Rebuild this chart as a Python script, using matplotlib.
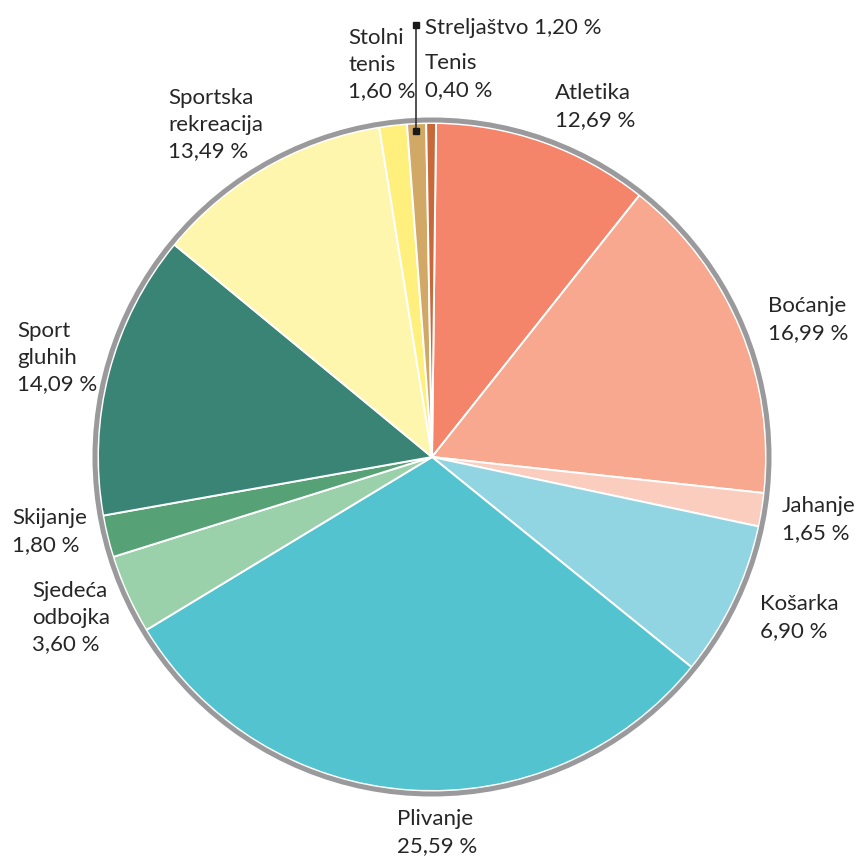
import matplotlib
matplotlib.use("Agg")
import matplotlib.pyplot as plt
from matplotlib.patches import Circle

# sports, clockwise from the top of the pie
sports = ["Atletika", "Boćanje", "Jahanje", "Košarka", "Plivanje", "Sjedeća odbojka",
          "Skijanje", "Sport gluhih", "Sportska rekreacija", "Stolni tenis",
          "Streljaštvo", "Tenis"]
# angular size of each slice as drawn in the original (degrees)
slice_deg = [37.7, 57.8, 5.8, 27.0, 109.8, 13.8, 7.3, 49.6, 41.4, 4.8, 3.3, 1.7]
# percentages printed on the labels
pct_text = ["12,69 %", "16,99 %", "1,65 %", "6,90 %", "25,59 %", "3,60 %",
            "1,80 %", "14,09 %", "13,49 %", "1,60 %", "1,20 %", "0,40 %"]
label_names = ["Atletika", "Boćanje", "Jahanje", "Košarka", "Plivanje", "Sjedeća\nodbojka",
               "Skijanje", "Sport\ngluhih", "Sportska\nrekreacija", "Stolni\ntenis",
               "Streljaštvo", "Tenis"]
colors = ["#F4846A", "#F7A88E", "#FACDBE", "#92D5E2", "#53C3CF", "#9AD1AB",
          "#56A276", "#3A8476", "#FFF6AE", "#FFF07E", "#D1A865", "#C8693A"]

W, H = 863, 861
cx, cy, r = 432, H - 457, 334

# label anchor (left, top) in pixel coords from top-left
label_pos = [(555, 83), (768, 296), (782, 496), (760, 594), (397, 809), (32, 581),
             (12, 508), (17, 321), (168, 88), (348, 28), (425, 18), (425, 53)]

fig = plt.figure(figsize=(W / 100, H / 100), dpi=100)
ax = fig.add_axes([0, 0, 1, 1])

ax.pie(slice_deg, colors=colors, startangle=89.3, counterclock=False,
       center=(cx, cy), radius=r,
       wedgeprops=dict(edgecolor="white", linewidth=1.4))
ax.add_patch(Circle((cx, cy), r + 3, fill=False, edgecolor="#9a9a9c", linewidth=3.6))

for name, pct, (x, y) in zip(label_names, pct_text, label_pos):
    if name == "Streljaštvo":
        txt = f"{name} {pct}"
    else:
        txt = f"{name}\n{pct}"
    ax.text(x, H - y, txt, ha="left", va="top", fontsize=16, family="Lato",
            color="#262626", linespacing=1.42)

# leader line for Streljaštvo
ax.plot([416, 416], [H - 25, H - 131], color="#333333", lw=1.2)
ax.plot([416, 416], [H - 25, H - 131], "s", color="#1a1a1a", markersize=4.5)

ax.set_xlim(0, W)
ax.set_ylim(0, H)
ax.set_aspect("equal")
ax.axis("off")

fig.savefig("out.png", dpi=100)
